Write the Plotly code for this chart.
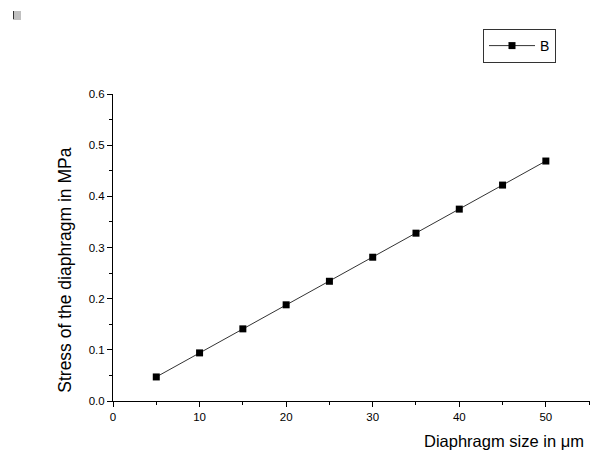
import plotly.graph_objects as go

sizes = [5, 10, 15, 20, 25, 30, 35, 40, 45, 50]
stress = [0.047, 0.094, 0.141, 0.188, 0.234, 0.281, 0.328, 0.375, 0.422, 0.469]
series_name = "B"
x_title = "Diaphragm size in \u03bcm"
y_title = "Stress of the diaphragm in MPa"

FONT = "Liberation Sans, Arial, sans-serif"

fig = go.Figure()
fig.add_trace(go.Scatter(
    x=sizes, y=stress, name=series_name, mode="lines+markers",
    line=dict(color="#333333", width=1),
    marker=dict(symbol="square", size=7, color="black"),
))

fig.update_layout(
    width=592, height=454,
    margin=dict(l=113, r=2, t=94, b=53),
    paper_bgcolor="white", plot_bgcolor="white",
    font=dict(family=FONT, color="black", size=12),
    showlegend=True,
    legend=dict(
        x=(483 - 113) / 477, y=(401 - 29) / 307, xanchor="left", yanchor="top",
        bordercolor="#333333", borderwidth=1, bgcolor="white",
        font=dict(size=14, family=FONT),
        itemwidth=46, tracegroupgap=0,
    ),
    xaxis=dict(
        range=[0, 55.1], showgrid=False, zeroline=False,
        showline=True, linecolor="black", linewidth=1,
        ticks="outside", ticklen=5, tickcolor="black", dtick=10, tick0=0,
        minor=dict(ticks="outside", ticklen=3, dtick=5, tickcolor="black"),
        tickfont=dict(size=11.5, family=FONT),
    ),
    yaxis=dict(
        range=[0, 0.6], showgrid=False, zeroline=False,
        showline=True, linecolor="black", linewidth=1,
        ticks="outside", ticklen=5, tickcolor="black", dtick=0.1, tick0=0,
        tickformat=".1f",
        minor=dict(ticks="outside", ticklen=3, dtick=0.05, tickcolor="black"),
        tickfont=dict(size=11.5, family=FONT),
    ),
    annotations=[
        dict(text=x_title, xref="paper", yref="paper", x=0.992, y=-0.095,
             xanchor="right", yanchor="top", showarrow=False,
             font=dict(size=16.5, family=FONT)),
        dict(text=y_title, xref="paper", yref="paper", x=-0.101, y=0.427,
             xanchor="center", yanchor="middle", textangle=-90, showarrow=False,
             font=dict(size=17.5, family=FONT)),
    ],
    shapes=[
        dict(type="rect", xref="paper", yref="paper",
             x0=(13 - 113) / 477, x1=(21 - 113) / 477,
             y0=(401 - 20) / 307, y1=(401 - 11) / 307,
             fillcolor="#c0c0c0", line=dict(width=0)),
        dict(type="line", xref="paper", yref="paper",
             x0=(13.5 - 113) / 477, x1=(13.5 - 113) / 477,
             y0=(401 - 19) / 307, y1=(401 - 11) / 307,
             line=dict(color="#333333", width=1)),
    ],
)

fig.write_html("out.html", config={"displayModeBar": False},
               post_script="document.body.style.margin='0';document.body.style.overflow='hidden';")
